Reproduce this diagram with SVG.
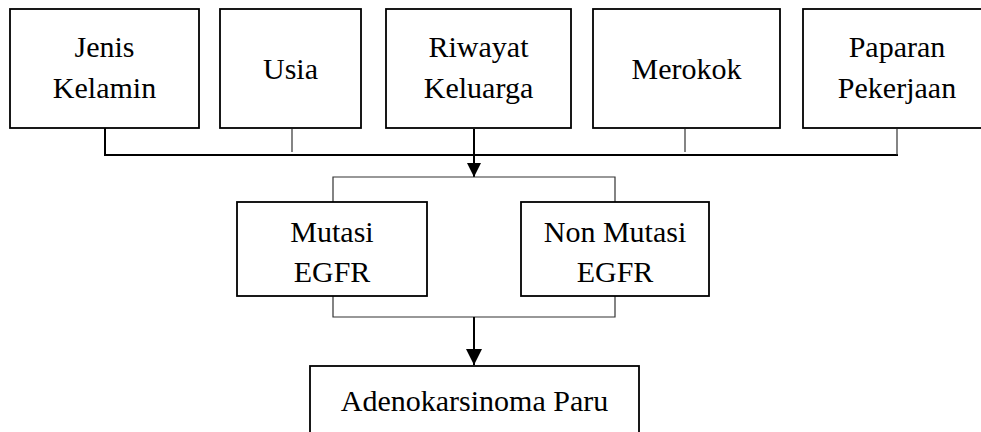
<svg xmlns="http://www.w3.org/2000/svg" width="981" height="432" viewBox="0 0 981 432">
<style>
.box{fill:#fff;stroke:#000;stroke-width:1.8}
.t{font-family:"Liberation Serif","Times New Roman",serif;font-size:30px;fill:#000;text-anchor:middle}
.ln{stroke:#000;stroke-width:2;fill:none}
.thin{stroke:#333;stroke-width:1.2;fill:none}
</style>
<defs>
<marker id="ah" markerWidth="14" markerHeight="14" refX="14" refY="7" orient="auto" markerUnits="userSpaceOnUse">
<path d="M0,0 L14,7 L0,14 z" fill="#000"/>
</marker>
<marker id="ah2" markerWidth="16" markerHeight="16" refX="16" refY="8" orient="auto" markerUnits="userSpaceOnUse">
<path d="M0,0 L16,8 L0,16 z" fill="#000"/>
</marker>
</defs>
<rect width="981" height="432" fill="#fff"/>
<g id="connectors">
<line class="ln" x1="105" y1="128" x2="105" y2="155"/>
<line class="ln" x1="104" y1="155" x2="898" y2="155"/>
<line class="thin" x1="292" y1="129" x2="292" y2="152"/>
<line class="thin" x1="685" y1="129" x2="685" y2="152"/>
<line class="thin" x1="897" y1="129" x2="897" y2="155"/>
<line class="ln" x1="474" y1="129" x2="474" y2="177" marker-end="url(#ah)"/>
<polyline class="thin" points="333,202 333,177 615,177 615,202"/>
<polyline class="thin" points="333,296 333,317 615,317 615,296"/>
<line class="ln" x1="474" y1="317" x2="474" y2="365" marker-end="url(#ah2)"/>
</g>
<g id="jenis-kelamin">
<rect class="box" x="10" y="9" width="189" height="119"/>
<text class="t" x="104.5" y="57">Jenis</text>
<text class="t" x="104.5" y="98">Kelamin</text>
</g>
<g id="usia">
<rect class="box" x="220" y="9" width="141" height="119"/>
<text class="t" x="290.5" y="79">Usia</text>
</g>
<g id="riwayat-keluarga">
<rect class="box" x="386" y="9" width="185" height="119"/>
<text class="t" x="478.5" y="57">Riwayat</text>
<text class="t" x="478.5" y="98">Keluarga</text>
</g>
<g id="merokok">
<rect class="box" x="593" y="9" width="187" height="119"/>
<text class="t" x="686.5" y="79">Merokok</text>
</g>
<g id="paparan-pekerjaan">
<rect class="box" x="803" y="9" width="189" height="119"/>
<text class="t" x="897" y="57">Paparan</text>
<text class="t" x="897" y="98">Pekerjaan</text>
</g>
<g id="mutasi-egfr">
<rect class="box" x="237" y="202" width="190" height="94"/>
<text class="t" x="332" y="242">Mutasi</text>
<text class="t" x="332" y="282">EGFR</text>
</g>
<g id="non-mutasi-egfr">
<rect class="box" x="521" y="202" width="188" height="94"/>
<text class="t" x="615" y="242">Non Mutasi</text>
<text class="t" x="615" y="282">EGFR</text>
</g>
<g id="adenokarsinoma-paru">
<rect class="box" x="310" y="366" width="329" height="80"/>
<text class="t" x="474.5" y="411">Adenokarsinoma Paru</text>
</g>
</svg>
